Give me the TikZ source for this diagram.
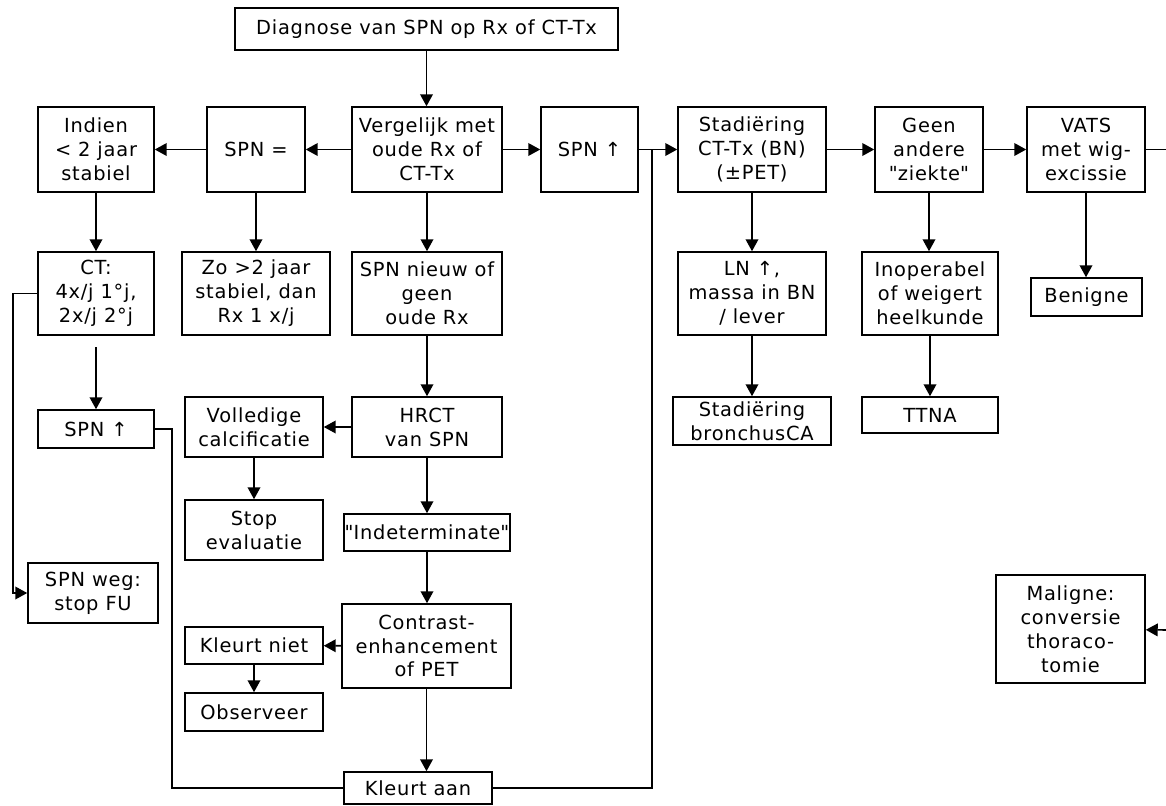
\documentclass[tikz,border=0pt]{standalone}
\usepackage{fontspec}
\setmainfont[LetterSpace=4]{DejaVu Sans}
\usetikzlibrary{arrows.meta}

\begin{document}
\begin{tikzpicture}[x=0.025cm, y=-0.025cm,
	box/.style 2 args={draw, line width=1.1pt, align=center, inner sep=0pt,
		minimum width=#1*0.025cm, minimum height=#2*0.025cm,
		font=\fontsize{13.8pt}{17pt}\selectfont},
	lijn/.style={line width=1.1pt},
	arr/.style={lijn, -{Triangle[length=8.5pt,width=9pt]}}]
		\useasboundingbox (0,0) rectangle (1166,805);

		\node[box={383}{42}] (diag) at (426.5,29) {Diagnose van SPN op Rx of CT-Tx};

		\node[box={116}{85}] (indien) at (96,149.5) {Indien\\< 2 jaar\\stabiel};
		\node[box={98}{85}] (spneq) at (256,149.5) {SPN =};
		\node[box={150}{85}] (verg) at (427,149.5) {Vergelijk met\\oude Rx of\\CT-Tx};
		\node[box={97}{85}] (spnup) at (589.5,149.5) {SPN ↑};
		\node[box={148}{85}] (stad) at (752,149.5) {Stadiëring\\CT-Tx (BN)\\(±PET)};
		\node[box={108}{85}] (geen) at (929,149.5) {Geen\\andere\\\textquotedbl ziekte\textquotedbl};
		\node[box={118}{85}] (vats) at (1086,149.5) {VATS\\met wig-\\excissie};

		\node[box={116}{83}] (ct) at (96,293.5) {CT:\\4x/j 1°j,\\2x/j 2°j};
		\node[box={148}{83}] (zo) at (256,293.5) {Zo >2 jaar\\stabiel, dan\\Rx 1 x/j};
		\node[box={150}{83}] (nieuw) at (427,293.5) {SPN nieuw of\\geen\\oude Rx};
		\node[box={148}{83}] (ln) at (752,293.5) {LN ↑,\\massa in BN\\/ lever};
		\node[box={136}{83}] (inop) at (930,293.5) {Inoperabel\\of weigert\\heelkunde};
		\node[box={111}{38}] (benigne) at (1086.5,297) {Benigne};

		\node[box={158}{48}] (bronch) at (752,421) {Stadiëring\\bronchusCA};
		\node[box={136}{36}] (ttna) at (930,415) {TTNA};

		\node[box={116}{38}] (spnup2) at (96,429) {SPN ↑};
		\node[box={130}{60}] (weg) at (93,593) {SPN weg:\\stop FU};

		\node[box={138}{60}] (volledig) at (254,427) {Volledige\\calcificatie};
		\node[box={150}{60}] (hrct) at (427,427) {HRCT\\van SPN};
		\node[box={138}{60}] (stop) at (254,530) {Stop\\evaluatie};
		\node[box={166}{37}] (indet) at (427,532.5) {\textquotedbl Indeterminate\textquotedbl};
		\node[box={169}{84}] (contrast) at (426.5,646) {Contrast-\\enhancement\\of PET};
		\node[box={138}{37}] (kniet) at (254,645.5) {Kleurt niet};
		\node[box={138}{38}] (obs) at (254,712) {Observeer};
		\node[box={148}{32}] (kaan) at (418,788) {Kleurt aan};

		\node[box={149}{108}] (maligne) at (1070.5,629) {Maligne:\\conversie\\thoraco-\\tomie};

		\coordinate (rtop) at (1166,149.5);
		\coordinate (rbot) at (1166,630);

		\draw[arr] (diag.south) -- (diag.south |- verg.north);
		\draw[arr] (verg) -- (spneq);
		\draw[arr] (spneq) -- (indien);
		\draw[arr] (verg) -- (spnup);
		\draw[arr] (spnup) -- (stad);
		\draw[arr] (stad) -- (geen);
		\draw[arr] (geen) -- (vats);
		\draw[lijn] (vats) -- (rtop);
		\draw[arr] (rbot) -- (maligne);

		\draw[arr] (indien) -- (ct);
		\draw[arr] (spneq) -- (zo);
		\draw[arr] (verg) -- (nieuw);
		\draw[arr] (stad) -- (ln);
		\draw[arr] (ln) -- (bronch);
		\draw[arr] (geen.south) -- (geen.south |- inop.north);
		\draw[arr] (inop) -- (ttna);
		\draw[arr] (vats.south) -- (vats.south |- benigne.north);

		\draw[arr, shorten <=8pt] (ct) -- (spnup2);
		\draw[arr] (ct.west) -- (13,293.5) |- (weg.west);
		\draw[lijn] (spnup2.east) -- (172,429) |- (kaan.west);
		\draw[lijn] (kaan.east) -| (652,149.5);

		\draw[arr] (nieuw) -- (hrct);
		\draw[arr] (hrct) -- (volledig);
		\draw[arr] (volledig) -- (stop);
		\draw[arr] (hrct) -- (indet);
		\draw[arr] (indet.south) -- (indet.south |- contrast.north);
		\draw[arr] (contrast) -- (kniet);
		\draw[arr] (kniet) -- (obs);
		\draw[arr] (contrast.south) -- (contrast.south |- kaan.north);
\end{tikzpicture}
\end{document}
